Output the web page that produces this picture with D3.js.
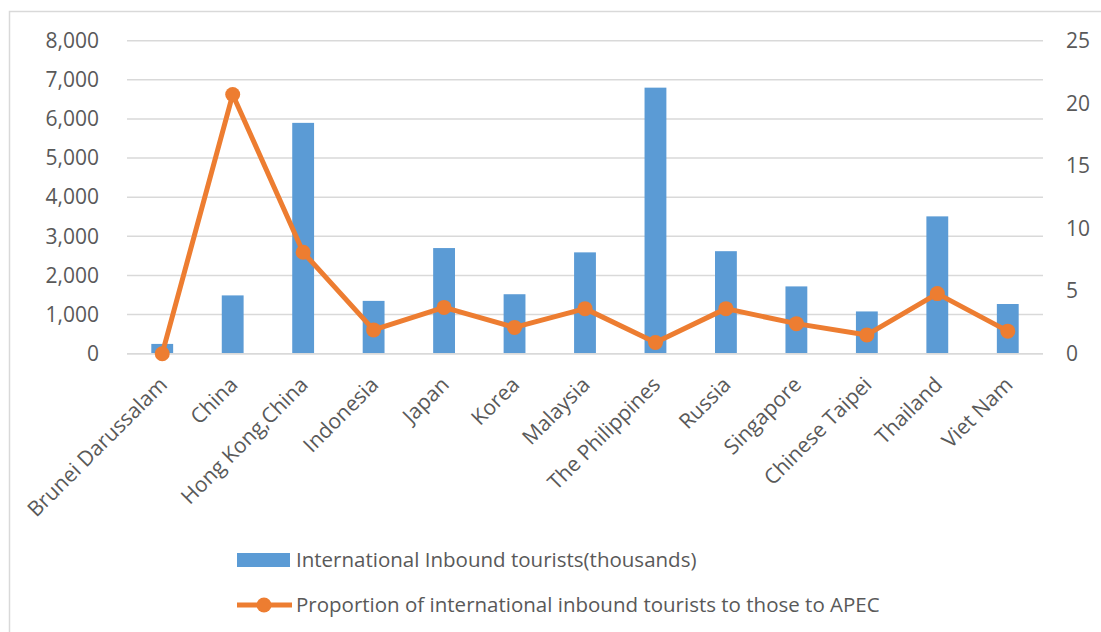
<!DOCTYPE html>
<html>
<head>
<meta charset="utf-8">
<script src="https://cdn.jsdelivr.net/npm/d3@7"></script>
<style>
  html, body { margin: 0; padding: 0; background: #fff; }
  svg { display: block; font-family: "Open Sans", "Liberation Sans", sans-serif; }
</style>
</head>
<body>
<svg id="chart" width="1101" height="632"></svg>
<script>
// Economies on the category axis
const economies = [
  "Brunei Darussalam", "China", "Hong Kong,China", "Indonesia", "Japan", "Korea",
  "Malaysia", "The Philippines", "Russia", "Singapore", "Chinese Taipei", "Thailand", "Viet Nam"
];
// International inbound tourists (thousands)
const inboundTourists = [250, 1490, 5900, 1350, 2700, 1520, 2590, 6800, 2620, 1720, 1080, 3510, 1270];
// Proportion of international inbound tourists to those to APEC (%)
const apecShare = [0.0, 20.7, 8.1, 1.9, 3.7, 2.1, 3.6, 0.9, 3.6, 2.4, 1.5, 4.8, 1.8];

const leftTicks = [0, 1000, 2000, 3000, 4000, 5000, 6000, 7000, 8000];
const rightTicks = [0, 5, 10, 15, 20, 25];

const seriesNames = [
  "International Inbound tourists(thousands)",
  "Proportion of international inbound tourists to those to APEC"
];

const barColor = "#5B9BD5";
const lineColor = "#ED7D31";
const gridColor = "#D9D9D9";
const textColor = "#595959";

const svg = d3.select("#chart");

// Chart area frame
svg.append("rect")
  .attr("x", 9.5).attr("y", 11.5)
  .attr("width", 1200).attr("height", 700)
  .attr("fill", "none").attr("stroke", gridColor).attr("stroke-width", 1.5);

const plot = { left: 127, right: 1043, top: 40.7, bottom: 353.7 };

const x = d3.scaleBand().domain(economies).range([plot.left, plot.right]).padding(0);
const yLeft = d3.scaleLinear().domain([0, 8000]).range([plot.bottom, plot.top]);
const yRight = d3.scaleLinear().domain([0, 25]).range([plot.bottom, plot.top]);

// Horizontal gridlines
svg.append("g")
  .selectAll("line").data(leftTicks).join("line")
  .attr("x1", plot.left).attr("x2", plot.right)
  .attr("y1", d => yLeft(d)).attr("y2", d => yLeft(d))
  .attr("stroke", gridColor).attr("stroke-width", 1.5);

// Left axis
const axL = svg.append("g")
  .attr("transform", `translate(${plot.left - 28},0)`)
  .call(d3.axisLeft(yLeft).tickValues(leftTicks).tickFormat(d3.format(",")).tickSize(0).tickPadding(0));
axL.select(".domain").remove();
axL.selectAll("text").attr("fill", textColor).style("font-size", "21px")
  .style("font-family", "'Open Sans', sans-serif");

// Right axis
const axR = svg.append("g")
  .attr("transform", `translate(${plot.right + 23},0)`)
  .call(d3.axisRight(yRight).tickValues(rightTicks).tickSize(0).tickPadding(0));
axR.select(".domain").remove();
axR.selectAll("text").attr("fill", textColor).style("font-size", "21px")
  .style("font-family", "'Open Sans', sans-serif");

// Bars
const barW = x.bandwidth() * 0.31;
svg.append("g")
  .selectAll("rect").data(economies).join("rect")
  .attr("x", (d) => x(d) + x.bandwidth() / 2 - barW / 2)
  .attr("y", (d, i) => yLeft(inboundTourists[i]))
  .attr("width", barW)
  .attr("height", (d, i) => yLeft(0) - yLeft(inboundTourists[i]))
  .attr("fill", barColor);

// Baseline
svg.append("line")
  .attr("x1", plot.left).attr("x2", plot.right)
  .attr("y1", plot.bottom).attr("y2", plot.bottom)
  .attr("stroke", gridColor).attr("stroke-width", 1.5);

// Share line with markers
const cx = d => x(d) + x.bandwidth() / 2;
const line = d3.line()
  .x(d => cx(d))
  .y((d, i) => yRight(apecShare[i]));
svg.append("path")
  .datum(economies)
  .attr("d", line)
  .attr("fill", "none")
  .attr("stroke", lineColor)
  .attr("stroke-width", 5)
  .attr("stroke-linejoin", "round");
svg.append("g")
  .selectAll("circle").data(economies).join("circle")
  .attr("cx", d => cx(d))
  .attr("cy", (d, i) => yRight(apecShare[i]))
  .attr("r", 7.5)
  .attr("fill", lineColor);

// Category labels, rotated
svg.append("g")
  .selectAll("text").data(economies).join("text")
  .attr("transform", d => `translate(${cx(d) + 1},${plot.bottom + 27}) rotate(-45)`)
  .attr("text-anchor", "end")
  .attr("dy", "0.35em")
  .attr("fill", textColor)
  .style("font-size", "21px")
  .text(d => d);

// Legend
const legend = svg.append("g");
legend.append("rect")
  .attr("x", 237).attr("y", 553).attr("width", 53).attr("height", 14)
  .attr("fill", barColor);
legend.append("text")
  .attr("x", 296).attr("y", 567)
  .attr("fill", textColor).style("font-size", "20.5px")
  .text(seriesNames[0]);
legend.append("line")
  .attr("x1", 237).attr("x2", 292).attr("y1", 605).attr("y2", 605)
  .attr("stroke", lineColor).attr("stroke-width", 5);
legend.append("circle")
  .attr("cx", 264).attr("cy", 605).attr("r", 7.5).attr("fill", lineColor);
legend.append("text")
  .attr("x", 296).attr("y", 612)
  .attr("fill", textColor).style("font-size", "20.5px")
  .text(seriesNames[1]);
</script>
</body>
</html>
